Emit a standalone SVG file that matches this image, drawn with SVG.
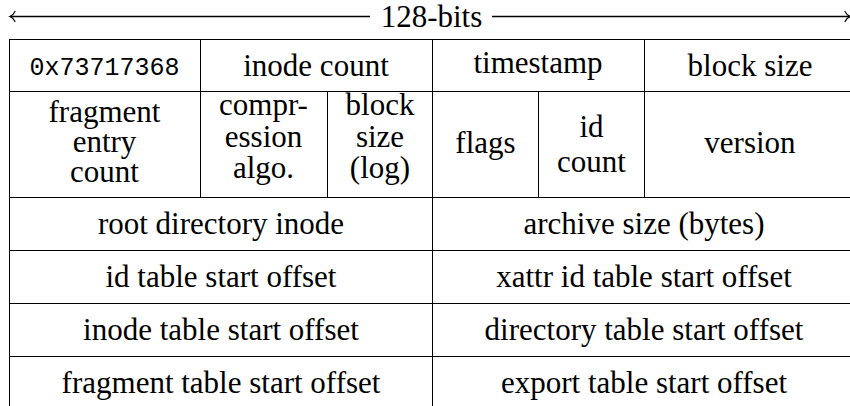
<svg xmlns="http://www.w3.org/2000/svg" width="850" height="406" viewBox="0 0 850 406">
<rect width="850" height="406" fill="#fff"/>
<g id="connectors" stroke="#000" fill="none">
<line x1="10" y1="16.5" x2="370" y2="16.5" stroke-width="1.3"/>
<path d="M15,11.5 Q13,15.5 10,16.5 Q13,17.5 15,21.5" stroke-width="1.2" stroke-linecap="round"/>
<line x1="492" y1="16.5" x2="855" y2="16.5" stroke-width="1.3"/>
<path d="M845,11.5 Q847,15.5 850,16.5 Q847,17.5 845,21.5" stroke-width="1.2" stroke-linecap="round"/>
</g>
<g id="label-128"><text x="431.5" y="27" font-family="Liberation Serif" font-size="31" text-anchor="middle" fill="#000">128-bits</text></g>
<g id="cells" fill="none" stroke="#000" stroke-width="1">
<rect x="9.5" y="39.5" width="191" height="52"/>
<rect x="200.5" y="39.5" width="232" height="52"/>
<rect x="432.5" y="39.5" width="212" height="52"/>
<rect x="644.5" y="39.5" width="212" height="52"/>
<rect x="9.5" y="91.5" width="191" height="106"/>
<rect x="200.5" y="91.5" width="127" height="106"/>
<rect x="327.5" y="91.5" width="105" height="106"/>
<rect x="432.5" y="91.5" width="106" height="106"/>
<rect x="538.5" y="91.5" width="106" height="106"/>
<rect x="644.5" y="91.5" width="212" height="106"/>
<rect x="9.5" y="197.5" width="423" height="53"/>
<rect x="432.5" y="197.5" width="424" height="53"/>
<rect x="9.5" y="250.5" width="423" height="53"/>
<rect x="432.5" y="250.5" width="424" height="53"/>
<rect x="9.5" y="303.5" width="423" height="53"/>
<rect x="432.5" y="303.5" width="424" height="53"/>
<rect x="9.5" y="356.5" width="423" height="53"/>
<rect x="432.5" y="356.5" width="424" height="53"/>
</g>
<g id="labels" text-anchor="middle" fill="#000">
<g id="magic"><text x="104.5" y="75" font-family="Liberation Mono" font-size="25">0x73717368</text></g>
<g id="inode-count"><text x="316" y="76" font-family="Liberation Serif" font-size="31">inode count</text></g>
<g id="timestamp"><text x="538" y="73" font-family="Liberation Serif" font-size="31">timestamp</text></g>
<g id="block-size"><text x="750" y="76" font-family="Liberation Serif" font-size="31">block size</text></g>
<g id="fragment-entry-count"><text x="104.5" y="122" font-family="Liberation Serif" font-size="31">fragment</text><text x="104.5" y="152" font-family="Liberation Serif" font-size="31">entry</text><text x="104.5" y="182" font-family="Liberation Serif" font-size="31">count</text></g>
<g id="compression-algo"><text x="263.5" y="115" font-family="Liberation Serif" font-size="31">compr-</text><text x="263.5" y="147" font-family="Liberation Serif" font-size="31">ession</text><text x="263.5" y="178" font-family="Liberation Serif" font-size="31">algo.</text></g>
<g id="block-size-log"><text x="380" y="115" font-family="Liberation Serif" font-size="31">block</text><text x="380" y="147" font-family="Liberation Serif" font-size="31">size</text><text x="380" y="178" font-family="Liberation Serif" font-size="31">(log)</text></g>
<g id="flags"><text x="485.5" y="153" font-family="Liberation Serif" font-size="31">flags</text></g>
<g id="id-count"><text x="591.5" y="137" font-family="Liberation Serif" font-size="31">id</text><text x="591.5" y="172" font-family="Liberation Serif" font-size="31">count</text></g>
<g id="version"><text x="750" y="153" font-family="Liberation Serif" font-size="31">version</text></g>
<g id="root-directory-inode"><text x="221" y="234" font-family="Liberation Serif" font-size="31">root directory inode</text></g>
<g id="archive-size"><text x="644" y="234" font-family="Liberation Serif" font-size="31">archive size (bytes)</text></g>
<g id="id-table"><text x="221" y="287" font-family="Liberation Serif" font-size="31">id table start offset</text></g>
<g id="xattr-id-table"><text x="644" y="287" font-family="Liberation Serif" font-size="31">xattr id table start offset</text></g>
<g id="inode-table"><text x="221" y="340" font-family="Liberation Serif" font-size="31">inode table start offset</text></g>
<g id="directory-table"><text x="644" y="340" font-family="Liberation Serif" font-size="31">directory table start offset</text></g>
<g id="fragment-table"><text x="221" y="393" font-family="Liberation Serif" font-size="31">fragment table start offset</text></g>
<g id="export-table"><text x="644" y="393" font-family="Liberation Serif" font-size="31">export table start offset</text></g>
</g>
</svg>
